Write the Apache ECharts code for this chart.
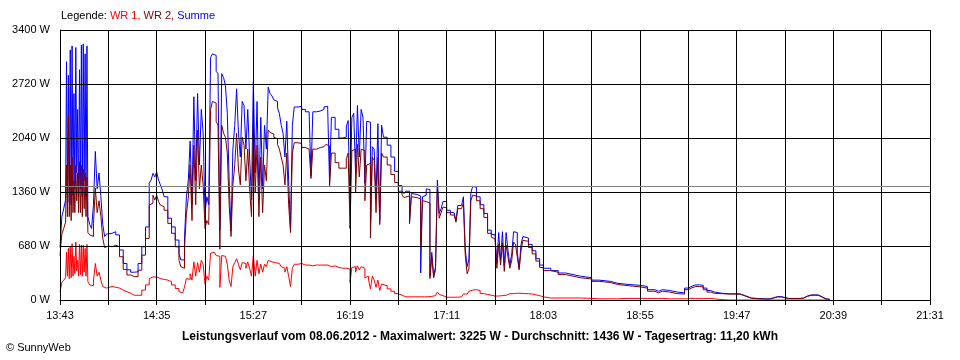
<!DOCTYPE html>
<html><head><meta charset="utf-8">
<script src="https://cdn.jsdelivr.net/npm/echarts@6/dist/echarts.min.js"></script>
<style>html,body{margin:0;padding:0;background:#fff}#c{width:960px;height:360px}</style>
</head><body><div id="c"></div>
<script>
// time axis: minutes after 13:43
const startMinuteOfDay = 13 * 60 + 43;
const xSpan = 468;          // 13:43 .. 21:31
const xStep = 26;           // grid step (labels every 2nd)
const yMax = 3400;
const yStep = 680;
const average = 1436;
const legendParts = ['Legende: ', 'WR 1, ', 'WR 2, ', 'Summe'];
const footerText = 'Leistungsverlauf vom 08.06.2012 - Maximalwert: 3225 W - Durchschnitt: 1436 W - Tagesertrag: 11,20 kWh';
const copyrightText = '\u00A9 SunnyWeb';

const minutes = [
  0,1,2,3,3.5,4,4.5,5,5.5,6,6.5,7,7.5,8,8.5,9,9.5,10,10.5,11,11.5,12,12.5,13,13.5,14,14.5,15,16,17,18,19,
  20,21,22,23,24,25,26,28,30,32,
  34,36,38,40,42,44,46,48,49,50,
  51,52,53,54,55,56,58,60,62,64,
  65,66,67,68,69,70,71,72,73,74,
  75,76,77,78,79,80,81,82,83,84,
  85,86,87,88,89,90,91,92,93,94,
  95,96,97,98,99,100,101,102,103,104,
  105,106,107,108,109,110,111,112,113,114,
  115,116,117,118,119,120,121,122,123,124,
  125,126,128,130,132,134,135,136,138,140,
  142,143,144,145,146,148,150,152,154,155,
  156,157,158,159,160,161,162,163,164,165,
  166,167,168,169,170,171,172,173,174,176,
  178,180,182,184,185,186,188,189,190,192,
  194,195,196,197,198,199,200,201,202,203,
  204,205,206,207,208,210,212,213,214,216,
  217,218,219,220,221,222,223,224,226,228,
  230,232,233,234,235,236,237,238,239,240,
  241,242,243,244,245,246,247,248,249,250,
  252,254,256,258,260,264,268,272,276,280,
  286,290,296,300,306,312,316,320,322,324,
  328,332,336,338,340,342,344,346,348,350,
  352,356,360,364,366,368,370,372,376,380,
  382,384,386,388,392,396,398,400,402,404,
  406,408,410,412,414
];

const summe = [
  660,1050,1150,1260,3000,1300,2830,1230,3150,1200,3200,1320,2600,1400,3180,1600,2400,1300,2900,1400,3210,1300,3225,1500,3100,1300,3200,1050,950,900,1200,1870,
  1400,1600,1300,950,800,830,840,860,820,630,
  460,380,350,355,460,670,920,1470,1510,1595,
  1550,1615,1510,1450,1385,1300,1030,920,755,585,
  505,505,795,1300,1500,2000,1200,2560,1500,2600,
  1700,2400,2100,1100,1300,1200,3050,3100,3080,2880,
  2850,880,2850,2800,2700,2350,1500,870,1900,2200,
  2660,2100,1800,2500,2450,1900,2400,1800,1260,2750,
  1600,2500,1300,2300,1400,2200,1900,2680,2600,2570,
  2520,2500,2420,2350,2200,2100,1800,2250,1500,900,
  2200,2430,2440,2400,2370,2360,1560,2370,2380,2400,
  2430,2440,2400,1480,2300,2150,2040,2050,2180,2260,
  1170,2300,2350,1600,2450,1800,2400,2300,1470,2250,
  2240,900,1930,1900,1300,2220,1000,2200,2050,1950,
  1800,1620,1440,1380,1340,1370,970,1340,1330,1310,
  340,1300,1320,1400,1390,300,600,300,420,1510,
  1090,1150,1240,1240,1130,1100,1080,1000,1190,1200,
  1300,640,420,520,1350,1430,1420,1300,1200,1090,
  880,830,820,810,460,850,500,860,430,850,
  620,440,580,860,850,600,400,700,800,780,
  700,620,520,440,400,370,340,320,300,280,
  250,235,210,195,185,170,130,110,130,120,
  100,90,150,175,190,190,185,150,120,100,
  85,78,78,76,60,42,25,18,15,15,
  30,42,42,20,20,20,25,50,63,65,
  63,40,15,10,0
];

const wr2 = [
  560,830,900,980,1700,1050,2330,1050,1700,1000,1800,1100,1500,1100,1700,1250,1600,1100,1740,1100,1700,1050,1650,1150,1600,1050,1550,850,820,800,960,1410,
  1100,1250,1050,780,660,680,670,690,670,545,
  385,315,295,295,375,565,775,1195,1220,1320,
  1260,1320,1240,1195,1175,1130,965,840,670,500,
  420,400,670,1090,1280,1700,1000,1950,1200,2140,
  1400,1700,1450,900,1000,950,2400,2500,2480,2250,
  2200,640,2200,2100,2050,1850,1200,800,1450,1700,
  2100,1650,1450,2050,1950,1500,1900,1400,1050,2150,
  1350,1950,1050,1800,1100,1700,1500,2140,2110,2090,
  2050,2030,1960,1900,1800,1700,1450,1850,1200,850,
  1850,1980,1970,1920,1900,1890,1530,1900,1920,1930,
  1950,1960,1940,1430,1850,1730,1660,1660,1780,1850,
  900,1880,1900,1350,1960,1550,1900,1880,1250,1700,
  1720,780,1800,1760,1100,1800,950,1850,1800,1700,
  1580,1480,1370,1320,1290,1310,960,1300,1290,1270,
  700,1250,1240,1230,1220,270,550,280,380,1430,
  1030,1100,1170,1160,1100,1070,1050,980,1150,1160,
  1220,560,330,400,1250,1320,1310,1250,1150,1040,
  840,790,770,760,400,700,440,720,360,690,
  540,400,500,730,700,540,380,620,750,740,
  660,580,490,410,370,350,320,300,280,265,
  235,220,195,180,165,150,110,90,110,100,
  80,75,130,155,170,170,165,130,100,85,
  80,75,75,72,55,38,22,15,12,12,
  25,38,38,18,18,18,22,45,58,60,
  58,35,12,8,0
];

const wr1 = [
  100,220,250,280,600,300,650,270,680,280,710,300,550,330,730,370,500,300,700,320,690,300,690,350,650,300,700,230,190,180,240,460,
  300,350,250,170,150,150,170,160,150,125,
  105,85,60,60,60,125,190,270,290,300,
  290,305,270,270,260,250,230,190,145,105,
  90,80,165,270,260,330,250,480,300,470,
  350,500,450,200,300,250,590,600,590,560,
  550,160,560,550,540,450,250,170,420,470,
  520,450,380,470,460,400,480,400,300,560,
  300,500,330,450,350,450,420,500,480,480,
  470,470,460,450,420,400,350,420,300,170,
  400,450,460,440,440,440,430,440,440,440,
  440,440,440,420,430,410,400,400,400,390,
  220,410,420,350,430,380,420,400,280,300,
  250,140,300,250,160,250,120,200,180,140,
  110,80,60,40,40,40,40,40,40,40,
  40,40,40,40,40,45,45,55,70,100,
  70,55,40,35,35,35,35,35,40,45,
  75,75,90,110,125,130,130,120,80,70,
  60,50,50,50,50,50,55,55,60,80,
  80,80,80,85,85,85,85,85,80,80,
  75,65,55,40,25,25,25,25,25,20,
  15,15,15,20,20,20,20,20,20,15,
  15,15,15,20,20,20,20,20,20,15,
  5,0,0,0,0,0,0,0,0,0,
  0,0,0,0,0,0,0,0,0,0,
  0,0,0,0,0
];

function pairs(vals) { return minutes.map((m, i) => [m, vals[i]]); }
function clock(v) {
  const t = startMinuteOfDay + v;
  const h = Math.floor(t / 60), mm = t % 60;
  return h + ':' + (mm < 10 ? '0' : '') + mm;
}
const FONT = '"Liberation Sans", Arial, sans-serif';
const chart = echarts.init(document.getElementById('c'), null, { renderer: 'canvas' });
const lineSeries = (name, color, vals, extra) => Object.assign({
  name, type: 'line', data: pairs(vals), step: 'end', showSymbol: false, symbol: 'none',
  lineStyle: { color, width: 1 }, itemStyle: { color }, animation: false, silent: true, z: 2
}, extra || {});

chart.setOption({
  animation: false,
  backgroundColor: '#fff',
  grid: { left: 60, right: 30, top: 30, bottom: 60, containLabel: false },
  xAxis: {
    type: 'value', min: 0, max: xSpan, interval: xStep, z: 5,
    axisLine: { show: true, lineStyle: { color: '#000', width: 1 } },
    axisTick: { show: true, length: 5, lineStyle: { color: '#000', width: 1 } },
    splitLine: { show: true, lineStyle: { color: '#000', width: 1 } },
    axisLabel: {
      margin: 10, color: '#000', fontFamily: FONT, fontSize: 11, showMaxLabel: true, showMinLabel: true,
      formatter: v => (v % (2 * xStep) === 0 ? clock(v) : '')
    }
  },
  yAxis: {
    type: 'value', min: 0, max: yMax, interval: yStep, z: 5,
    axisLine: { show: true, lineStyle: { color: '#000', width: 1 } },
    axisTick: { show: false },
    splitLine: { show: true, lineStyle: { color: '#000', width: 1 } },
    axisLabel: { margin: 10, color: '#000', fontFamily: FONT, fontSize: 11, formatter: v => String(v) + ' W' }
  },
  series: [
    lineSeries('Summe', '#0000ff', summe),
    lineSeries('WR 2', '#800000', wr2),
    lineSeries('WR 1', '#ff0000', wr1, {
      markLine: {
        silent: true, symbol: 'none', animation: false, label: { show: false },
        lineStyle: { color: '#808080', type: 'solid', width: 1 },
        data: [{ yAxis: average }]
      }
    })
  ],
  graphic: [
    {
      type: 'text', left: 61, top: 10,
      style: {
        text: '{a|' + legendParts[0] + '}{b|' + legendParts[1] + '}{c|' + legendParts[2] + '}{d|' + legendParts[3] + '}',
        rich: {
          a: { fill: '#000', fontFamily: FONT, fontSize: 11 },
          b: { fill: '#ff0000', fontFamily: FONT, fontSize: 11 },
          c: { fill: '#800000', fontFamily: FONT, fontSize: 11 },
          d: { fill: '#0000ff', fontFamily: FONT, fontSize: 11 }
        }
      }
    },
    {
      type: 'text', x: 480, y: 337,
      style: { text: footerText, fill: '#000', fontFamily: FONT, fontSize: 12, fontWeight: 'bold', align: 'center', verticalAlign: 'middle' }
    },
    {
      type: 'text', x: 6, y: 348,
      style: { text: copyrightText, fill: '#000', fontFamily: FONT, fontSize: 11, align: 'left', verticalAlign: 'middle' }
    }
  ]
});
</script>
</body></html>
